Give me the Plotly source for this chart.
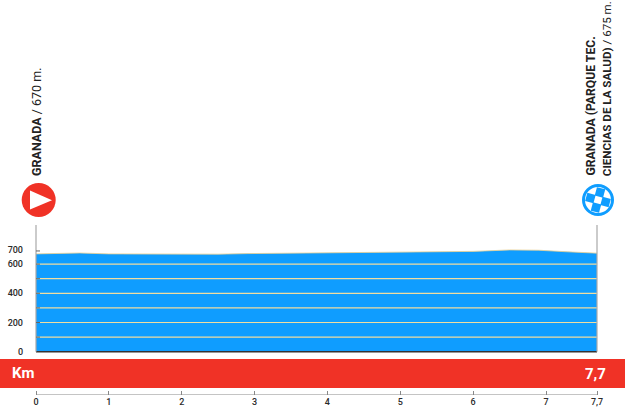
import plotly.graph_objects as go

km = [0, 0.3, 0.6, 1, 1.5, 2, 2.5, 2.9, 3.5, 4, 4.6, 5, 5.5, 6, 6.5, 6.9, 7.3, 7.7]
elevation = [670, 672, 676, 670, 668, 668, 668, 672, 675, 679, 684, 681, 684, 687, 697, 695, 684, 675]
grid_levels = [100, 200, 300, 400, 500, 600]
axis_marks = [100, 200, 300, 400, 500, 600, 690]
y_ticks = [0, 200, 400, 600, 700]
x_ticks = [0, 1, 2, 3, 4, 5, 6, 7, 7.7]
x_tick_labels = ["0", "1", "2", "3", "4", "5", "6", "7", "7,7"]
total_label = "7,7"

BLUE = "#0F9DFF"
RED = "#F03226"
CREAM = "#F0DDA0"
INK = "#2A2A2A"
W, H = 625, 407
L, R, B_PX = 36, 597, 395
PLOT_LEFT = 25
Y0 = 351.7
PXU = 14.6 / 100
KM_PX = (R - L) / 7.7
XMIN = (PLOT_LEFT - L) / KM_PX
XMAX = (W - L) / KM_PX
YMIN = -(B_PX - Y0) / PXU
YMAX = Y0 / PXU
def yv(px): return (Y0 - px) / PXU
def xv(px): return (px - L) / KM_PX

fig = go.Figure()
fig.add_trace(go.Scatter(x=km, y=elevation, mode="lines", fill="tozeroy",
                         fillcolor=BLUE, line=dict(color="#E8CF90", width=0.8),
                         hoverinfo="skip", showlegend=False))
shapes = []
for g in grid_levels:
    shapes.append(dict(type="line", xref="x", yref="y", x0=0, x1=7.7, y0=g, y1=g,
                       line=dict(color=CREAM, width=1.2), layer="above"))
shapes.append(dict(type="line", xref="x", yref="y", x0=0, x1=7.7, y0=0, y1=0,
                   line=dict(color="#333333", width=1.6), layer="above"))
for x in (0, 7.7):
    shapes.append(dict(type="line", xref="x", yref="y", x0=x, x1=x, y0=0, y1=yv(225),
                       line=dict(color="#A8A8A8", width=1.2), layer="above"))
for m in axis_marks:
    shapes.append(dict(type="line", xref="x", yref="y", x0=0, x1=xv(40), y0=m, y1=m,
                       line=dict(color="#666666", width=1), layer="above"))
shapes.append(dict(type="line", xref="x", yref="y", x0=0, x1=7.7, y0=YMIN, y1=YMIN,
                   line=dict(color="#888888", width=1), layer="above"))
shapes.append(dict(type="rect", xref="paper", yref="y",
                   x0=-PLOT_LEFT / (W - PLOT_LEFT), x1=1, y0=yv(388), y1=yv(359),
                   fillcolor=RED, line=dict(width=0), layer="below"))
fig.update_layout(shapes=shapes)

# start and finish badges
cy = yv(200)
fig.add_trace(go.Scatter(x=[xv(38.7)], y=[cy], mode="markers", cliponaxis=False,
                         marker=dict(symbol="circle", size=34, color=RED, line=dict(width=0)),
                         hoverinfo="skip", showlegend=False))
fig.add_trace(go.Scatter(x=[xv(30), xv(30), xv(52), xv(30)],
                         y=[yv(190.5), yv(209.5), yv(200.3), yv(190.5)],
                         mode="lines", fill="toself", fillcolor="white", line=dict(width=0),
                         cliponaxis=False, hoverinfo="skip", showlegend=False))
fx, fy = 598, 200
fig.add_trace(go.Scatter(x=[xv(fx)], y=[yv(fy)], mode="markers", cliponaxis=False,
                         marker=dict(symbol="circle", size=29, color="white", line=dict(width=3, color=BLUE)),
                         hoverinfo="skip", showlegend=False))
cx_list, cy_list = [], []
for i in range(-2, 3):
    for j in range(-2, 3):
        if (i + j) % 2 == 1:
            px = fx + 7.6 * i - 2 * j
            py = fy + 2 * i + 7.6 * j
            if (px - fx) ** 2 + (py - fy) ** 2 < 14.5 ** 2:
                cx_list.append(xv(px))
                cy_list.append(yv(py))
fig.add_trace(go.Scatter(x=cx_list, y=cy_list, mode="markers", cliponaxis=False,
                         marker=dict(symbol="square", size=8.6, angle=15, color=BLUE, line=dict(width=0)),
                         hoverinfo="skip", showlegend=False))

FONT = "Liberation Sans Narrow, Roboto, sans-serif"
def place(text, x_px, y_bottom, size=12, color="#222222"):
    return dict(text=text, xref="x", yref="y", x=xv(x_px), y=yv(y_bottom), showarrow=False,
                textangle=-90, xanchor="center", yanchor="bottom", align="left",
                font=dict(family=FONT, size=size, color=color))

annotations = [
    place("<b>GRANADA</b> / 670 m.", 36, 178, size=12.5),
    place("<b>GRANADA (PARQUE TEC.</b>", 590, 178, size=12.2),
    place("<b>CIENCIAS DE LA SALUD)</b> / 675 m.", 606.7, 178, size=11.6),
    dict(text="<b>Km</b>", xref="paper", yref="y", x=(9.5 - PLOT_LEFT) / (W - PLOT_LEFT), y=yv(372.5), showarrow=False, xanchor="left",
         font=dict(family="Roboto, sans-serif", size=15, color="white")),
    dict(text=f"<b>{total_label}</b>", xref="x", yref="y", x=xv(608), y=yv(374), showarrow=False, xanchor="right",
         font=dict(family="Roboto, sans-serif", size=15, color="white")),
]

fig.update_layout(
    width=W, height=H, autosize=False,
    margin=dict(l=PLOT_LEFT, r=0, t=0, b=H - B_PX, pad=0),
    paper_bgcolor="white", plot_bgcolor="rgba(0,0,0,0)", showlegend=False,
    annotations=annotations,
    xaxis=dict(range=[XMIN, XMAX], tickvals=x_ticks, ticktext=x_tick_labels, ticks="inside", ticklen=4,
               tickwidth=1, tickcolor="#888888", showline=False,
               showgrid=False, zeroline=False, tickangle=0,
               tickfont=dict(family="Roboto, sans-serif", size=9, weight=500, color=INK)),
    yaxis=dict(range=[YMIN, YMAX], tickvals=y_ticks, ticks="", showline=False, showgrid=False,
               zeroline=False, ticklabelstandoff=1,
               tickfont=dict(family="Roboto, sans-serif", size=9, weight=500, color=INK)),
)
fig.write_html("out.html", config={"displayModeBar": False}, post_script="document.body.style.margin='0';")
